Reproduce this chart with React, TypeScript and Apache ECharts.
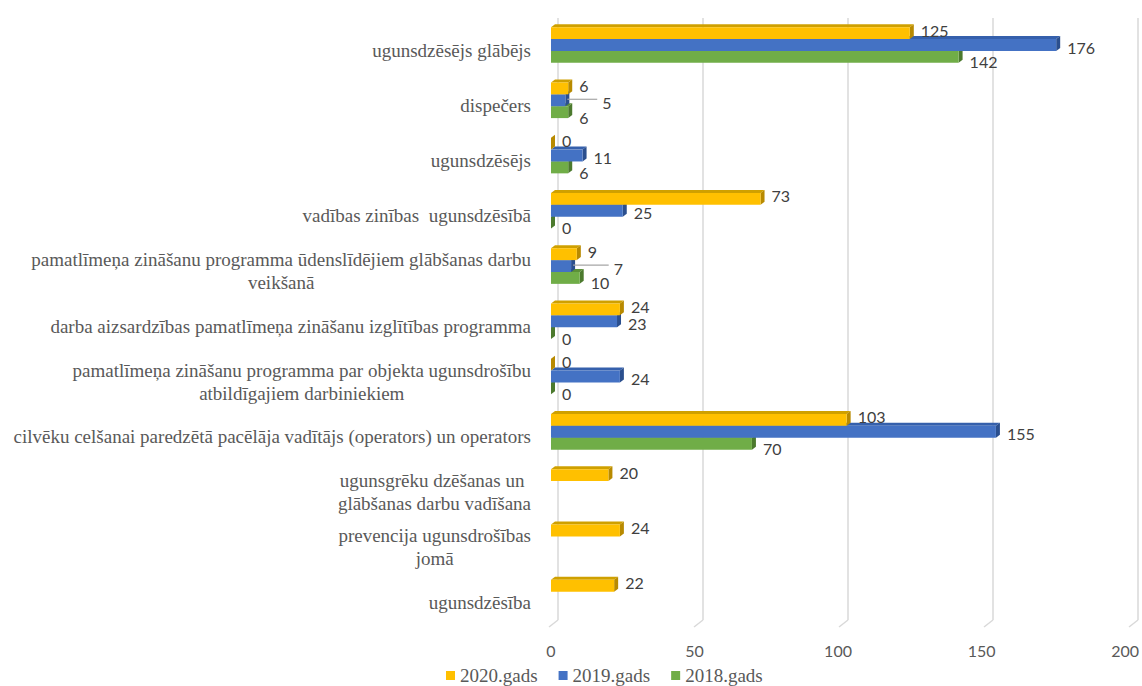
import React, { useEffect, useRef } from "react";
import * as echarts from "echarts";

const categories = [
  "ugunsdzēsējs glābējs",
  "dispečers",
  "ugunsdzēsējs",
  "vadības zinības  ugunsdzēsībā",
  "pamatlīmeņa zināšanu programma ūdenslīdējiem glābšanas darbu\nveikšanā",
  "darba aizsardzības pamatlīmeņa zināšanu izglītības programma",
  "pamatlīmeņa zināšanu programma par objekta ugunsdrošību\natbildīgajiem darbiniekiem",
  "cilvēku celšanai paredzētā pacēlāja vadītājs (operators) un operators",
  "ugunsgrēku dzēšanas un \nglābšanas darbu vadīšana",
  "prevencija ugunsdrošības\njomā",
  "ugunsdzēsība",
];

const seriesNames = ["2020.gads", "2019.gads", "2018.gads"];
const values2020: (number | null)[] = [125, 6, 0, 73, 9, 24, 0, 103, 20, 24, 22];
const values2019: (number | null)[] = [176, 5, 11, 25, 7, 23, 24, 155, null, null, null];
const values2018: (number | null)[] = [142, 6, 6, 0, 10, 0, 0, 70, null, null, null];
const xTicks = [0, 50, 100, 150, 200];

const allValues = [values2020, values2019, values2018];

const SERIF = "Liberation Serif, Times New Roman, serif";

const palette = [
  { front: "#FFC000", top: "#CFA000", side: "#B88A00" },
  { front: "#4472C4", top: "#3560AC", side: "#2B4F8E" },
  { front: "#70AD47", top: "#5C9138", side: "#4C7A2E" },
];
const labelDy = [-3, 2, 5];
const LABEL_FONT = "16px Lato";

function makeSeries(k: number, vals: (number | null)[]) {
  const data: number[][] = [];
  vals.forEach((v, i) => {
    if (v !== null) data.push([v, i]);
  });
  const c = palette[k];
  return {
    type: "custom",
    name: seriesNames[k],
    xAxisIndex: 0,
    yAxisIndex: 0,
    itemStyle: { color: c.front },
    encode: { x: 0, y: 1 },
    data,
    z: 2,
    renderItem: (params: any, api: any) => {
      const v = api.value(0);
      const ci = api.value(1);
      const p0 = api.coord([0, ci]);
      const p1 = api.coord([v, ci]);
      const band = api.size([0, 1])[1];
      const h = band * 0.215;
      const yc = p0[1] + (k - 1) * h;
      const y0 = yc - h / 2;
      const y1 = yc + h / 2;
      const x0 = p0[0];
      const x1 = p1[0];
      const dx = 4;
      const dy = 3;
      let lx = x1 + dx + 7;
      const ly = yc + labelDy[k];
      const children: any[] = [
        {
          type: "polygon",
          shape: { points: [[x0, y0], [x0 + dx, y0 - dy], [x1 + dx, y0 - dy], [x1, y0]] },
          style: { fill: c.top },
        },
        {
          type: "polygon",
          shape: { points: [[x1, y0], [x1 + dx, y0 - dy], [x1 + dx, y1 - dy], [x1, y1]] },
          style: { fill: c.side },
        },
        {
          type: "rect",
          shape: { x: x0, y: y0, width: Math.max(x1 - x0, 0), height: h },
          style: { fill: c.front },
        },
      ];
      if (k === 1) {
        const a = allValues[0][ci];
        const b = allValues[2][ci];
        if (a !== null && b !== null && v < a && v < b && Math.max(a, b) < 15) {
          const xm = api.coord([Math.max(a, b), ci])[0];
          const tx = xm + dx + 30;
          children.push({
            type: "line",
            shape: { x1: x1 + 2, y1: yc - 1, x2: tx - 5, y2: yc - 1 },
            style: { stroke: "#A6A6A6", lineWidth: 1.2 },
          });
          lx = tx;
        }
      }
      children.push({
        type: "text",
        x: lx,
        y: ly,
        style: {
          text: String(v),
          fill: "#404040",
          font: LABEL_FONT,
          lineHeight: 14,
          align: "left",
          verticalAlign: "middle",
        },
      });
      return { type: "group", children };
    },
  };
}

const floorSeries = {
  type: "custom",
  name: "floor",
  xAxisIndex: 1,
  yAxisIndex: 1,
  silent: true,
  encode: { x: 0 },
  data: xTicks.map((t) => [t, 0]),
  z: 1,
  renderItem: (params: any, api: any) => {
    const p = api.coord([api.value(0), 0]);
    return {
      type: "line",
      shape: { x1: p[0], y1: p[1], x2: p[0] - 9, y2: p[1] + 7 },
      style: { stroke: "#D9D9D9", lineWidth: 1.5 },
    };
  },
};

export default function App() {
  const ref = useRef<HTMLDivElement>(null);
  useEffect(() => {
    if (!ref.current) return;
    const chart = echarts.init(ref.current, undefined, { renderer: "svg" });
    chart.setOption({
      animation: false,
      backgroundColor: "#ffffff",
      legend: {
        data: seriesNames,
        left: 441,
        top: 661,
        icon: "rect",
        itemWidth: 9,
        itemHeight: 9,
        itemGap: 21,
        textStyle: { fontFamily: SERIF, fontSize: 19, color: "#595959" },
      },
      grid: [
        { left: 551, right: 9, top: 17.4, bottom: 60.8 },
        { left: 558, right: 4, top: 18, bottom: 66 },
      ],
      xAxis: [
        {
          type: "value",
          gridIndex: 0,
          min: 0,
          max: 200,
          interval: 50,
          axisLine: { show: false },
          axisTick: { show: false },
          splitLine: { show: false },
          axisLabel: {
            margin: 17,
            fontFamily: "Lato",
            fontSize: 16,
            color: "#595959",
            formatter: (v: number) => (xTicks.includes(v) ? String(v) : ""),
          },
        },
        {
          type: "value",
          gridIndex: 1,
          min: 0,
          max: 200,
          interval: 50,
          axisLine: { show: false },
          axisTick: { show: false },
          axisLabel: { show: false },
          splitLine: { show: true, lineStyle: { color: "#D9D9D9", width: 1.5 } },
        },
      ],
      yAxis: [
        {
          type: "category",
          gridIndex: 0,
          data: categories,
          inverse: true,
          axisLine: { show: false },
          axisTick: { show: false },
          axisLabel: {
            margin: 20,
            padding: [10, 0, 0, 0],
            fontFamily: SERIF,
            fontSize: 19,
            color: "#595959",
            lineHeight: 23,
            formatter: (v: string) =>
              v
                .split("\n")
                .map((l) => `{c|${l}}`)
                .join("\n"),
            rich: {
              c: {
                align: "center",
                fontFamily: SERIF,
                fontSize: 19,
                color: "#595959",
                lineHeight: 23,
              },
            },
          },
        },
        { type: "value", gridIndex: 1, show: false, min: 0, max: 1 },
      ],
      series: [
        floorSeries,
        makeSeries(2, values2018),
        makeSeries(1, values2019),
        makeSeries(0, values2020),
      ],
    });
    return () => chart.dispose();
  }, []);
  return (
    <div
      ref={ref}
      style={{ position: "fixed", left: 0, top: 0, width: 1142, height: 686 }}
    />
  );
}
